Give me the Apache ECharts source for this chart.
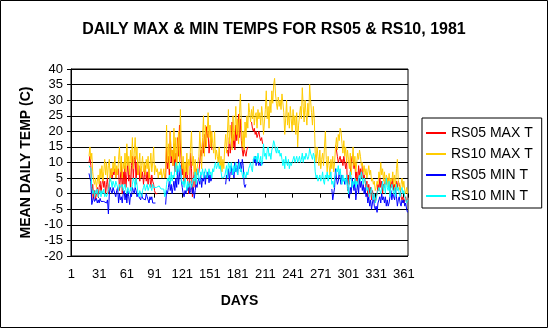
<!DOCTYPE html>
<html><head><meta charset="utf-8">
<script src="https://cdn.jsdelivr.net/npm/echarts@6/dist/echarts.min.js"></script>
<style>html,body{margin:0;padding:0;background:#fff}#c{width:548px;height:328px}</style>
</head><body><div id="c"></div>
<script>
const dayCount = 365;
const labelEvery = 30;
const seriesNames = ['RS05 MAX T', 'RS10 MAX T', 'RS05 MIN T', 'RS10 MIN T'];
const seriesColors = ['#ff0000', '#ffcc00', '#0000ff', '#00ffff'];

// RS05 MAX T, segments [start day, values]
const rs05MaxA = [10,12,9,-2,3,-1,1,-2,0,2, -1,2,4,0,3,5,2,4,0,3, 5,0,3,6,8,5,7,6,8,5, 8,6,8,1,5,10,0,7,3,9, 2,6,10,4,8,1,9,12,5,11, 12,3,10,6,9,4,8,5,7,3, 6,9,4,7,3,8,5,2,6,4, 3,1,0,-0.5,0];
const rs05MaxB = [5,15,8,12,6,20,10, 14,9,16,7,13,10,18,12,22,15, 10,6,9,3,7,5,10,4,0,3, 13,8,-1,4,7,2,8,7,6,7, 10,14,12,17,13,19,15,21.5,18,20, 13,16,20,14];
const rs05MaxC = [14,12,18,13,16,23,15,19,14,22, 17,20,25.5,18,24,17,14,12,15,13, 12,14,15];
const rs05MaxD = [23,21,20,21,19,20,18,19,20,18,17,18,16];
const rs05MaxE = [15.5,14,12, 10,11,12,10,11,9,12,10,8,11, 1,6,3,7,10,12,11,8,10,4, 7,3,9,6,8,5,9,5,6,4, 2,4,-1,3,0,2,-2,1,-1,-2, -3,-1,0,3,1,5,2,4,0,3, 2,5,3,4,5,3,0,4,2,5, 1,3,0,4,2,4,3,2,-1,-2, -1,-3,-2,-1,-3,-2];
const rs05MaxSegments = [[20, rs05MaxA], [103, rs05MaxB], [170, rs05MaxC], [196, rs05MaxD], [287, rs05MaxE]];

// RS10 MAX T, from day 20
const rs10Max = [12,15,11,13,7,4,3,5,2,4, 6,3,8,5,9,4,7,11,6,10, 5,9,11,4,8,6,10,7,12,5, 9,6,11,15,7,12,5,10,8,13, 7,16,9,12,6,14,10,18,8,13, 18,11,15,6,10,13,5,9,12,7, 10,6,11,8,12,5,9,13,7,10, 15,6,9,7,8,5,7,6,8,5, 6,8,5,7,22,10,16,8,20,12, 14,9,21,11,18,8,15,20,10,27, 14,8,12,5,10,7,13,6,11,9, 15,20,9,12,6,11,5,8,10,12, 20,14,8,18,25,12,22,15,19,26, 18,22,15,20,16,13,20,11,14,12, 10,15,8,12,7,11,8,15,19,13, 20,27,16,22,18,14,25,17,21,28, 19,24,16,26,32,22,15,20,14,23, 18,25,21,29,26,23,27,24,28,22, 25,26,21,27,24,26,22,28,25,19, 23,27,33,24,28,21,30,26,33,29, 35,37,32,29,27,31,28,30,27,32, 32,26,19,24,30,22,26,21,28,24, 20,27,22,25,19,26,15,22,25,28, 24,34,28,23,30,26,22,29,25,35, 30,26,22,28,24,13,10,15,12,9, 14,8,11,13,9,15,20,11,7,12, 9,6,11,8,12,7,10,15,18,14, 19,17,21,20,16,13,17,12,15,10, 14,11,8,13,6,10,15,9,12,7, 10,13,11,14,12,9,10,7,9,6, 8,5,7,9,6,7.5,4,5,3,4, 1,2,4,3,7,5,10,6,8,4, 7,3,6,5,2,6.5,3,5,4,7, 3,6,2,8,11,4,2,1,3,5, 2,4,1,0,2,0];
const rs10MaxSegments = [[20, rs10Max]];

// RS05 MIN T, segments
const rs05MinA = [6.5,5,4,-3.5,-3,-1,-2.5,-3,-1.5,-3, -2,-3,-1.5,-2.5,-2,-3,-2.5,-2,-2.5,-3, -2,-6.5,0,2,1,0,2,1.5,0,-1, 1,2,-3,0,-2,-1,-3,0,1,-2, 0,-3,1,-1,-3.5,0,-1,2,1,0, 2,1,-1,0,-1,-0.5,-2,0,-1.5,-2, -1,-2,0,-1,-2,-3,-1,-2,-1,-3, -2.5,-3,-3];
const rs05MinB = [-3.5,1,0,2,4,1,3, 0,2,4,1,5,2,8,3,6,9, 4,2,0,-1,1,0,2,1,3,0, 1,3,0,2,-1.5,1,3,2,4,5, 3,6,2,5,4,7,3,6,5,7, 3.5,6,4,5];
const rs05MinC = [3,6,5,8,4,7,9,6,8,5,10,7, 9,6,11,8,10,7,11,9,3,2,3];
const rs05MinD = [11,10,12,9,11,10,9,10,9,8.5,9,10];
const rs05MinE = [1.5,-2,0,2,8,5,3, 4,7,5,3,6,4,5,3,4,5, 3,1,-1.5,2,0,5,3,1,4,-2, 1,3,0,5,2,4,1,3,0,2, -1,0,-3,-1,-4,-2,-5,-3,-1,-4, -5,-4,-6,-3,-2,-1,-3,0,-2,-1, -3,-1,-4,-2,-4,-3,-1,1,-2,0, -1,-2,1,-1,-4,-2,-1,-3,-4,-2, -3,-2,-4,-3,-5,-6];
const rs05MinSegments = [[20, rs05MinA], [103, rs05MinB], [168, rs05MinC], [198, rs05MinD], [283, rs05MinE]];

// RS10 MIN T, from day 20
const rs10Min = [9,9,8,2,0,1,-1,1,0,1.5, -1,0,1,-1,1,0,1.5,-1,0,-1, -1,1,3,5,4,2,4,3,2,4, 3,2,1,3,2,1.5,3,1,2,3, 1,0,2,1,0,2,1,3,5,4, 2,5,3,0,-1,1,0,-1,1,2, 3,1,2,3,1,2,3,2,1,3, 2,1.5,2.5,2,1.5,2,2.5,2,1.5,2, 2,1.5,-1,0,3,5,4,6,3,7, 4,6,5,8,10,6,9,7,10,8, 5,3,4,2,5,3,1,4,2,3, 4,2,3,5,4,7,3,6,8,5, 4,7,6,8,5,6,8,7,5,6, 8,6,7,5,8,7,9,10,8,9, 10,8,9,7,5,5,5,5.5,6,9, 5,10,9,7,10,8,6,9,7,10, 8,6,9,10,7,8,6,5,7,6, 5,7,6,8,9,10,8,7,11,12, 11,12,10,13,11,10,12,9,11,16, 12,13,11,14,15,12,13,11,14,15, 17,16,14,13,15,13,14,12,13,11, 9,11,8,12,10,9,11,8,10,9, 10,11,12,10,11,12,10,11,12,10, 11,13,10,12,11,13,12,11,12,14.5, 13,12,11,13,12,7,5,6,4,5, 6,4,5,7,4,3,6,5,7,4, 6,5,7,3,4,2,5,6,8,7, 9,6,8,5,3,6,4,5,3,6, 2,0,4,7,5,2,4,3,5,2, 4,3,5,6,4,7,5,3,5,4, 3,1,2,0,-1,1,2,-1,-2,0, -3,-2,0,1,2,1,0,2,4,1, 3,0,5,2,1,4,-1,2,3,1, 0,2,-1,3,1,2,0,-1,1,2, 0,1,-1,-2,-3,-2];
const rs10MinSegments = [[20, rs10Min]];

const days = [];
for (let d = 1; d <= dayCount; d++) days.push(String(d));

function place(segments) {
  const arr = new Array(dayCount).fill(null);
  segments.forEach(([start, vals]) => vals.forEach((v, i) => { arr[start - 1 + i] = v; }));
  return arr;
}
const allSegments = [rs05MaxSegments, rs10MaxSegments, rs05MinSegments, rs10MinSegments];

const font = '"Liberation Sans", Arial, sans-serif';
const chart = echarts.init(document.getElementById('c'), null, {renderer: 'canvas'});
chart.setOption({
  animation: false,
  backgroundColor: '#fff',
  title: {
    text: 'DAILY MAX & MIN TEMPS FOR RS05 & RS10, 1981',
    left: 'center', top: 17,
    textStyle: {fontFamily: font, fontSize: 16, fontWeight: 'bold', color: '#000'}
  },
  legend: {
    orient: 'vertical', left: 422, top: 118,
    padding: [8, 9, 5, 4], itemGap: 7, itemWidth: 20, itemHeight: 2,
    icon: 'rect',
    borderColor: '#000', borderWidth: 1, backgroundColor: '#fff', borderRadius: 0,
    textStyle: {fontFamily: font, fontSize: 14, color: '#000', lineHeight: 14},
    data: seriesNames
  },
  grid: {left: 71, right: 140, top: 69, bottom: 72, show: true, borderColor: '#000', borderWidth: 1},
  xAxis: {
    type: 'category', data: days, boundaryGap: true,
    name: 'DAYS', nameLocation: 'middle', nameGap: 38,
    nameTextStyle: {fontFamily: font, fontSize: 14, fontWeight: 'bold', color: '#000'},
    axisLine: {lineStyle: {color: '#000', width: 1}},
    axisTick: {show: true, interval: labelEvery - 1, length: 4, alignWithLabel: false, lineStyle: {color: '#000'}},
    axisLabel: {interval: labelEvery - 1, margin: 12, fontFamily: font, fontSize: 13, color: '#000'},
    splitLine: {show: false}
  },
  yAxis: {
    type: 'value', min: -20, max: 40, interval: 5,
    name: 'MEAN DAILY TEMP (C)', nameLocation: 'middle', nameGap: 36,
    nameTextStyle: {fontFamily: font, fontSize: 14, fontWeight: 'bold', color: '#000'},
    axisLine: {show: true, lineStyle: {color: '#000', width: 1}},
    axisTick: {show: true, length: 4, lineStyle: {color: '#000'}},
    axisLabel: {margin: 8, fontFamily: font, fontSize: 13, color: '#000'},
    splitLine: {show: true, lineStyle: {color: '#000', width: 1}}
  },
  graphic: [{type: 'rect', shape: {x: 0.5, y: 0.5, width: 547, height: 327}, style: {fill: 'none', stroke: '#000', lineWidth: 1}, silent: true, z: 100}],
  series: seriesNames.map((n, i) => ({
    name: n, type: 'line', data: place(allSegments[i]),
    symbol: 'none', showSymbol: false, connectNulls: false,
    itemStyle: {color: seriesColors[i]},
    lineStyle: {color: seriesColors[i], width: 1}
  }))
});
</script></body></html>
